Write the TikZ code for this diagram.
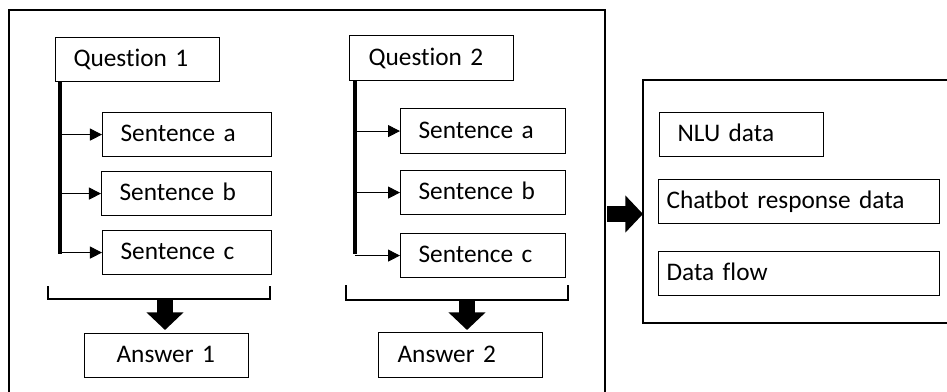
\documentclass[tikz,border=0pt]{standalone}
\usepackage{fontspec}
\setmainfont{Carlito}[Ligatures={NoCommon,NoDiscretionary,NoRare}]
\usetikzlibrary{arrows.meta}

\begin{document}
\begin{tikzpicture}[x=0.025cm,y=-0.025cm,
		item box/.style={draw,line width=0.8pt,anchor=north west,minimum height=1.1cm,inner xsep=0.45cm,text width=#1,align=left,text height=1em,text depth=0pt,font=\fontsize{18}{22}\selectfont},
		trunk/.style={line width=2.3pt},
		branch/.style={line width=0.7pt,-{Triangle[length=0.3cm,width=0.3cm]}},
		bracket/.style={line width=1.4pt},
		fat arrow/.style={line width=0.4cm,-{Triangle[length=0.44cm,width=0.9cm]}}]
			\clip (0,0) rectangle (947,391);

			% containers
			\draw[line width=1.6pt] (9,10) rectangle (605,420);
			\draw[line width=1.6pt] (643,80) rectangle (980,323);

			% first question
			\node[item box=3.2cm] at (55,37) (q1) {Question 1};
			\node[item box=3.325cm] at (102,112) (s1a) {Sentence a};
			\node[item box=3.35cm] at (101,171) (s1b) {Sentence b};
			\node[item box=3.325cm] at (102,230) (s1c) {Sentence c};
			\node[item box=2.5cm,inner xsep=0.8cm] at (84,333) (a1) {Answer 1};
			\coordinate (t1) at (60,254);
			\coordinate (b1) at (165,300);

			% second question
			\node[item box=3.15cm,inner xsep=0.475cm,minimum height=1.125cm] at (349,35) (q2) {Question 2};
			\node[item box=3.225cm,minimum height=1.125cm] at (400,108) (s2a) {Sentence a};
			\node[item box=3.225cm] at (400,170) (s2b) {Sentence b};
			\node[item box=3.225cm] at (400,233) (s2c) {Sentence c};
			\node[item box=3.15cm,inner xsep=0.475cm,minimum height=1.125cm] at (378,332) (a2) {Answer 2};
			\coordinate (t2) at (355,254);
			\coordinate (b2) at (467,300);

			% output data
			\node[item box=3.2cm] at (659,112) (nlu) {NLU data};
			\node[item box=6.625cm,inner xsep=0.2cm] at (658,179) (resp) {Chatbot response data};
			\node[item box=6.625cm,inner xsep=0.2cm] at (658,251) (flow) {Data flow};
			\coordinate (r0) at (607,214);
			\coordinate (r1) at (643,214);

			\draw[trunk] (q1.south -| t1) -- (t1);
			\draw[trunk] (q2.south -| t2) -- (t2);
			\path
				(s1a.west -| t1) edge[branch] (s1a.west)
				(s1b.west -| t1) edge[branch] (s1b.west)
				(s1c.west -| t1) edge[branch] (s1c.west)
				(s2a.west -| t2) edge[branch] (s2a.west)
				(s2b.west -| t2) edge[branch] (s2b.west)
				(s2c.west -| t2) edge[branch] (s2c.west)
				;

			\draw[bracket] (48,286) |- (270,299) -- (270,286);
			\draw[bracket] (346,285) |- (568,300) -- (568,285);

			\draw[fat arrow,shorten >=0.075cm] (b1) -- (b1 |- a1.north);
			\draw[fat arrow,shorten >=0.05cm] (b2) -- (b2 |- a2.north);
			\draw[fat arrow] (r0) -- (r1);
		\end{tikzpicture}
\end{document}
